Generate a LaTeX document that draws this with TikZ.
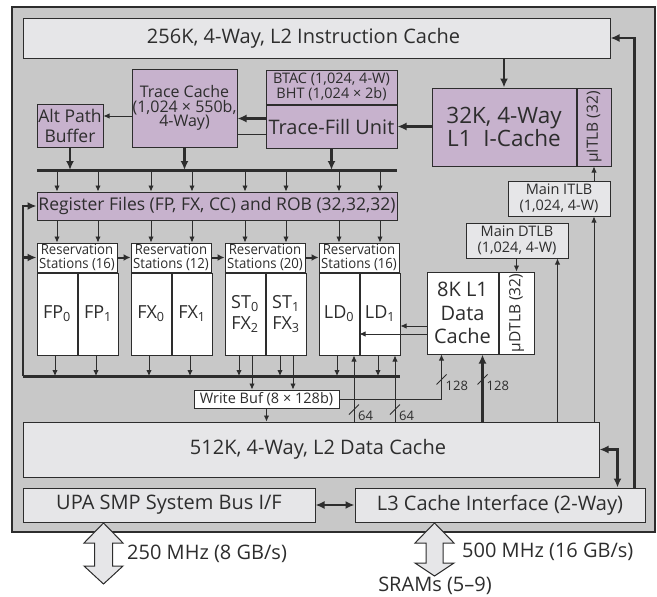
\documentclass[tikz,border=0pt]{standalone}
\usepackage{fontspec}
\setmainfont{Open Sans}
\newfontfamily\narrowfont[FakeStretch=0.94]{Open Sans}
\usetikzlibrary{positioning,arrows.meta,calc}
\definecolor{chipgray}{RGB}{200,200,200}
\definecolor{celllight}{RGB}{230,230,232}
\definecolor{cellpurple}{RGB}{199,178,205}
\definecolor{edgedark}{RGB}{45,45,45}
\tikzset{
  lbox/.style={draw=edgedark, line width=1pt, fill=celllight, inner sep=0pt, align=center, text=edgedark},
  pbox/.style={lbox, fill=cellpurple},
  wbox/.style={lbox, fill=white},
  fbig/.style={font=\fontsize{20}{23}\selectfont},
  fhuge/.style={font=\fontsize{22.5}{22}\selectfont},
  fmid/.style={font=\fontsize{17.5}{20}\selectfont},
  fsmall/.style={font=\fontsize{14.5}{15.5}\selectfont},
  fhdr/.style={font=\narrowfont\fontsize{14}{14}\selectfont},
  fcell/.style={font=\fontsize{18}{21}\selectfont},
  frot/.style={font=\fontsize{15.5}{17}\selectfont, text=edgedark, rotate=90},
  ftiny/.style={font=\fontsize{13}{14}\selectfont, text=edgedark},
  arr/.style={-{Latex[length=6pt,width=5.5pt]}, line width=0.9pt, draw=edgedark},
  barr/.style={-{Latex[length=9pt,width=8pt]}, line width=2.6pt, draw=edgedark},
  barrs/.style={-{Latex[length=7pt,width=7pt]}, line width=2pt, draw=edgedark},
  bus/.style={line width=3pt, draw=edgedark},
  slash/.style={line width=0.8pt, draw=edgedark},
  hollow/.style={draw=edgedark, line width=1pt, fill=celllight, line join=miter},
}
\begin{document}
\begin{tikzpicture}[x=1pt,y=-1pt]
  \useasboundingbox (0,0) rectangle (657,597);
  % chip outline
  \draw[line width=2pt, draw=edgedark, fill=chipgray] (12,7) rectangle (655,532);

  % instruction side
  \node[lbox, fbig, minimum width=587, minimum height=40] (l2i) at (316.5,38) {\hspace*{-26pt}256K, 4-Way, L2 Instruction Cache};
  \node[pbox, fhuge, minimum width=144, minimum height=78] (l1i) at (504,127) {32K, 4-Way\\L1\ \ I-Cache};
  \node[pbox, minimum width=34, minimum height=78, right=0pt of l1i] (uitlb) {};
  \node[frot] (uitlbtxt) at (uitlb) {µITLB (32)};
  \node[pbox, fsmall, minimum width=131, minimum height=34] (btac) at (331.5,87) {BTAC (1,024, 4-W)\\BHT (1,024 × 2b)};
  \node[pbox, fbig, minimum width=131, minimum height=43, below=0pt of btac] (tfu) {Trace-Fill Unit};
  \node[pbox, font=\fontsize{16}{14.5}\selectfont, minimum width=105, minimum height=78] (tc) at (184.5,108) {Trace Cache\\(1,024 × 550b,\\4-Way)};
  \node[pbox, fmid, minimum width=66, minimum height=43] (apb) at (70,125.5) {Alt Path\\Buffer};
  \node[lbox, fsmall, minimum width=102, minimum height=35] (mitlb) at (559,198.5) {Main ITLB\\(1,024, 4-W)};

  \draw[barr] (l2i.south -| l1i.north) -- (l1i.north);
  \draw[barr] (l1i.west |- tfu.east) -- (tfu.east);
  \draw[barr] ([yshift=8pt]tfu.west) -- ([yshift=8pt]tfu.west -| tc.east);
  \draw[line width=0.9pt, draw=edgedark] ([yshift=-8pt]tfu.west) -- ([yshift=-8pt]tfu.west -| tc.east);
  \draw[arr] ([yshift=-8pt]tc.west) -- ([yshift=-8pt]tc.west -| apb.east);

  % dispatch bus and register files
  \coordinate (tbl) at (37,170);
  \coordinate (tbr) at (397,170);
  \draw[bus] (tbl) -- (tbr);
  \draw[barr] (apb.south) -- (apb.south |- tbl);
  \draw[barr] (tc.south) -- (tc.south |- tbl);
  \draw[barr] (tfu.south) -- (tfu.south |- tbl);
  \node[pbox, fmid, minimum width=360, minimum height=28] (rf) at (217,206) {Register Files (FP, FX, CC) and ROB (32,32,32)};

  % reservation stations and units
  \node[wbox, fhdr, minimum width=80, minimum height=29] (hfp) at (77,257.5) {Reservation\\Stations (16)};
  \node[wbox, fhdr, minimum width=80, minimum height=29, right=13pt of hfp] (hfx) {Reservation\\Stations (12)};
  \node[wbox, fhdr, minimum width=80, minimum height=29, right=13pt of hfx] (hst) {Reservation\\Stations (20)};
  \node[wbox, fhdr, minimum width=80, minimum height=29, right=13pt of hst] (hld) {Reservation\\Stations (16)};
  \node[wbox, fcell, minimum width=40, minimum height=82, anchor=north west] (fp0) at (hfp.south west) {FP\textsubscript{0}};
  \node[wbox, fcell, minimum width=40, minimum height=82, right=0pt of fp0] (fp1) {FP\textsubscript{1}};
  \node[wbox, fcell, minimum width=40, minimum height=82, anchor=north west] (fx0) at (hfx.south west) {FX\textsubscript{0}};
  \node[wbox, fcell, minimum width=40, minimum height=82, right=0pt of fx0] (fx1) {FX\textsubscript{1}};
  \node[wbox, fcell, minimum width=40, minimum height=82, anchor=north west] (st0) at (hst.south west) {ST\textsubscript{0}\\FX\textsubscript{2}};
  \node[wbox, fcell, minimum width=40, minimum height=82, right=0pt of st0] (st1) {ST\textsubscript{1}\\FX\textsubscript{3}};
  \node[wbox, fcell, minimum width=40, minimum height=82, anchor=north west] (ld0) at (hld.south west) {LD\textsubscript{0}};
  \node[wbox, fcell, minimum width=40, minimum height=82, right=0pt of ld0] (ld1) {LD\textsubscript{1}};

  \foreach \c in {fp0,fp1,fx0,fx1,st0,st1,ld0,ld1}{
    \draw[arr] (tbl -| \c) -- (rf.north -| \c);
    \draw[arr] (rf.south -| \c) -- (hfp.north -| \c);
  }
  \draw[barrs] (hfp.east) -- (hfx.west);
  \draw[barrs] (hfx.east) -- (hst.west);
  \draw[barrs] (hst.east) -- (hld.west);

  % completion bus back to the register files
  \coordinate (bbl) at (23,376);
  \draw[bus] (bbl) -- (bbl -| hld.east);
  \draw[barr] (bbl) |- (rf.west);
  \draw[barr] (bbl |- hfp.west) -- (hfp.west);

  % data side
  \node[lbox, fbig, minimum width=576, minimum height=55] (l2d) at (311,449.5) {\hspace*{14pt}512K, 4-Way, L2 Data Cache};
  \node[wbox, fsmall, minimum width=145, minimum height=18] (wb) at (266.5,399) {Write Buf (8 × 128b)};
  \node[wbox, font=\fontsize{20}{23.5}\selectfont, minimum width=71, minimum height=82] (dc) at (462.5,313) {8K L1\\Data\\Cache};
  \node[wbox, minimum width=35, minimum height=82, right=0pt of dc] (udtlb) {};
  \node[frot] (udtlbtxt) at (udtlb) {µDTLB (32)};
  \node[lbox, fsmall, minimum width=102, minimum height=35] (mdtlb) at (517,240.5) {Main DTLB\\(1,024, 4-W)};

  \foreach \c in {fp0,fp1,fx0,fx1,ld0,ld1}
    \draw[arr] ([xshift=-2pt]\c.south) -- ([xshift=-2pt]\c.south |- bbl);
  \foreach \c in {st0,st1}{
    \draw[arr] ([xshift=-6pt]\c.south) -- ([xshift=-6pt]\c.south |- bbl);
    \draw[arr] ([xshift=7pt]\c.south) -- ([xshift=7pt]\c.south |- wb.north);
  }
  \foreach \c in {ld0,ld1}
    \draw[arr] ([xshift=15pt]\c.south |- l2d.north) -- ([xshift=15pt]\c.south);
  \draw[arr] (wb.south) -- (wb.south |- l2d.north);
  \draw[arr] ([yshift=-13pt]dc.west) -- ([yshift=-13pt]dc.west -| ld1.east);
  \draw[arr] ([yshift=-21pt]dc.west) -- ([yshift=-21pt]dc.west -| ld0.east);
  \draw[arr] (wb.east) -| ([xshift=15pt]dc.south west);
  \draw[barr] ([xshift=-16pt]dc.south east |- l2d.north) -- ([xshift=-16pt]dc.south east);
  \draw[arr] (mdtlb.south -| udtlb.north) -- (udtlb.north);
  \draw[arr] ([xshift=-11pt]mdtlb.south east |- l2d.north) -- ([xshift=-11pt]mdtlb.south east);
  \draw[arr] (l2d.north -| uitlb.south) -- (mitlb.south -| uitlb.south);
  \draw[arr] (mitlb.north -| uitlb.south) -- (uitlb.south);

  % bus widths
  \coordinate (w128a) at ([xshift=15pt,yshift=-25pt]dc.south west);
  \coordinate (w128b) at ([xshift=-16pt,yshift=-25pt]dc.south east);
  \coordinate (w64a) at ([xshift=15pt,yshift=-54pt]ld0.south);
  \coordinate (w64b) at ([xshift=15pt,yshift=-54pt]ld1.south);
  \foreach \p/\t in {w128a/128, w128b/128, w64a/64, w64b/64}{
    \draw[slash] ($(\p)+(-5,5)$) -- ($(\p)+(5,-5)$);
    \node[ftiny, anchor=west, inner sep=0pt] (lab-\p) at ($(\p)+(4,6)$) {\t};
  }

  % external interfaces
  \node[lbox, fbig, minimum width=292, minimum height=34] (upa) at (169,505) {UPA SMP System Bus I/F};
  \node[lbox, fbig, minimum width=290, minimum height=34] (l3) at (500,505) {L3 Cache Interface (2-Way)};
  \draw[barr, {Latex[length=9pt,width=8pt]}-{Latex[length=9pt,width=8pt]}] (upa.east) -- (l3.west);
  \draw[barr, {Latex[length=9pt,width=8pt]}-{Latex[length=9pt,width=8pt]}] (l2d.east) -| ([xshift=-28pt]l3.north east);
  \draw[barr] ([xshift=-11pt]l3.north east) |- (l2i.east);

  \draw[hollow, shift={(103.5,523)}] (0,0) -- (19.5,20) -- (9,20) -- (9,43) -- (19.5,43) -- (0,61)
    -- (-19.5,43) -- (-9,43) -- (-9,20) -- (-19.5,20) -- cycle;
  \draw[hollow, shift={(434.5,523)}] (0,0) -- (19.5,20) -- (8.5,20) -- (8.5,40) -- (19.5,40) -- (0,53)
    -- (-19.5,40) -- (-8.5,40) -- (-8.5,20) -- (-19.5,20) -- cycle;
  \node[fbig, anchor=west, inner sep=0pt, text=edgedark] (upaclk) at (127,554) {250 MHz (8 GB/s)};
  \node[fbig, anchor=west, inner sep=0pt, text=edgedark] (l3clk) at (462,552) {500 MHz (16 GB/s)};
  \node[fbig, inner sep=0pt, text=edgedark] (sram) at (435,586) {SRAMs (5–9)};
\end{tikzpicture}
\end{document}
